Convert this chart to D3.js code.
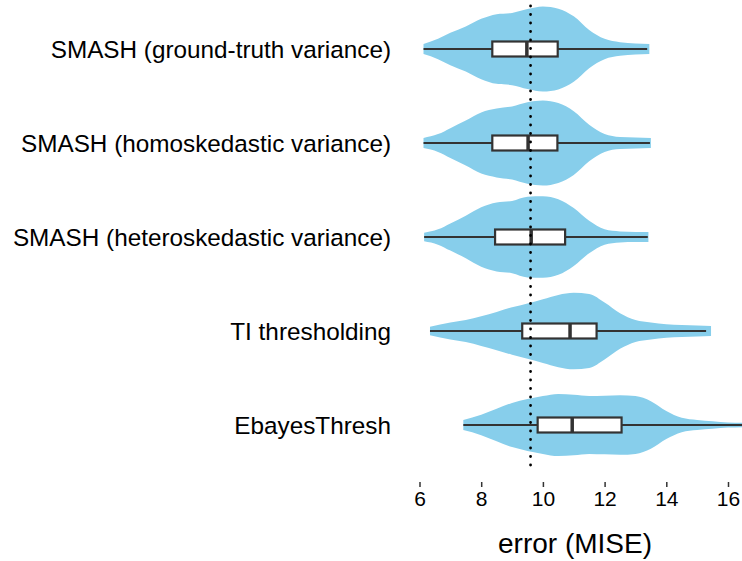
<!DOCTYPE html>
<html lang="en">
<head>
    <meta charset="UTF-8">
    <title>Violin plot of MISE by method</title>
    <script src="https://cdn.jsdelivr.net/npm/d3@7/dist/d3.min.js"></script>
    <style>
        body { margin: 0; background: #fff; }
        svg text { font-family: "Liberation Sans", Arial, Helvetica, sans-serif; fill: #000; }
    </style>
</head>
<body>
<script>
    // Methods, top to bottom
    const methods = [
        "SMASH (ground-truth variance)",
        "SMASH (homoskedastic variance)",
        "SMASH (heteroskedastic variance)",
        "TI thresholding",
        "EbayesThresh"
    ];

    // Violin outlines: error values and relative density at each
    const violinX = [
        [6.13, 6.6, 7, 7.5, 8, 8.5, 9, 9.5, 10, 10.5, 11, 11.5, 12, 12.5, 13, 13.45],
        [6.13, 6.6, 7, 7.5, 8, 8.5, 9, 9.5, 10, 10.5, 11, 11.5, 12, 12.5, 13, 13.5],
        [6.15, 6.6, 7, 7.5, 8, 8.5, 9, 9.5, 10, 10.5, 11, 11.5, 12, 12.5, 13, 13.42],
        [6.34, 7, 7.5, 8, 8.5, 9, 9.5, 10, 10.5, 11, 11.5, 12, 12.5, 13, 13.5, 14, 14.5, 15, 15.45],
        [7.42, 8, 8.5, 9, 9.5, 10, 10.5, 11, 11.5, 12, 12.5, 13, 13.5, 14, 14.5, 15, 15.5, 16, 16.6]
    ];
    const violinDensity = [
        [0.12, 0.24, 0.38, 0.53, 0.71, 0.82, 0.85, 0.94, 1.00, 0.95, 0.77, 0.45, 0.24, 0.16, 0.13, 0.12],
        [0.12, 0.21, 0.35, 0.53, 0.72, 0.81, 0.86, 0.96, 1.00, 0.94, 0.75, 0.43, 0.21, 0.14, 0.13, 0.12],
        [0.10, 0.18, 0.32, 0.50, 0.70, 0.81, 0.85, 0.95, 0.96, 0.89, 0.68, 0.38, 0.18, 0.13, 0.12, 0.12],
        [0.10, 0.20, 0.26, 0.35, 0.45, 0.56, 0.65, 0.75, 0.85, 0.90, 0.87, 0.67, 0.42, 0.26, 0.20, 0.16, 0.14, 0.13, 0.12],
        [0.12, 0.24, 0.38, 0.52, 0.61, 0.68, 0.73, 0.71, 0.68, 0.69, 0.70, 0.68, 0.56, 0.33, 0.17, 0.12, 0.09, 0.06, 0.05]
    ];

    // Box plot stats
    const whiskerLo = [6.13, 6.13, 6.15, 6.34, 7.42];
    const q1 = [8.36, 8.36, 8.45, 9.33, 9.83];
    const median = [9.48, 9.52, 9.62, 10.88, 10.95];
    const q3 = [10.48, 10.47, 10.72, 11.74, 12.55];
    const whiskerHi = [13.38, 13.47, 13.40, 15.29, 16.6];

    const refLine = 9.6;
    const xTicks = [6, 8, 10, 12, 14, 16];

    const width = 742, height = 561;

    const svg = d3.select("body").append("svg")
        .attr("width", width)
        .attr("height", height);

    const x = d3.scaleLinear().domain([6, 16]).range([419.5, 728]);
    const y = d3.scaleBand().domain(methods).range([2, 472]);
    const w = d3.scaleLinear().domain([0, 1]).range([0, 42.5]);

    const rows = methods.map((m, i) => ({
        name: m,
        pts: violinX[i].map((v, j) => ({ v: v, d: violinDensity[i][j] })),
        lo: whiskerLo[i], q1: q1[i], med: median[i], q3: q3[i], hi: whiskerHi[i]
    }));

    const cy = d => y(d.name) + y.bandwidth() / 2;

    const g = svg.selectAll(".row").data(rows).enter().append("g").attr("class", "row");

    // violins
    g.append("path")
        .attr("fill", "#87CEEB")
        .attr("d", r => d3.area()
            .x(p => x(p.v))
            .y0(p => cy(r) - w(p.d))
            .y1(p => cy(r) + w(p.d))
            .curve(d3.curveMonotoneX)(r.pts));

    // whiskers
    g.append("line")
        .attr("x1", r => x(r.lo)).attr("x2", r => x(r.hi))
        .attr("y1", cy).attr("y2", cy)
        .attr("stroke", "#333").attr("stroke-width", 2.2);

    // boxes
    const boxH = 15;
    g.append("rect")
        .attr("x", r => x(r.q1))
        .attr("width", r => x(r.q3) - x(r.q1))
        .attr("y", r => cy(r) - boxH / 2)
        .attr("height", boxH)
        .attr("fill", "#fff")
        .attr("stroke", "#333").attr("stroke-width", 2.2);

    // medians
    g.append("line")
        .attr("x1", r => x(r.med)).attr("x2", r => x(r.med))
        .attr("y1", r => cy(r) - boxH / 2).attr("y2", r => cy(r) + boxH / 2)
        .attr("stroke", "#333").attr("stroke-width", 3.5);

    // reference dotted line
    svg.append("line")
        .attr("x1", x(refLine)).attr("x2", x(refLine))
        .attr("y1", 6).attr("y2", 470)
        .attr("stroke", "#000")
        .attr("stroke-width", 2.8)
        .attr("stroke-linecap", "round")
        .attr("stroke-dasharray", "0,8.5");

    // category labels
    svg.selectAll(".lab").data(methods).enter().append("text")
        .attr("class", "lab")
        .attr("x", 391)
        .attr("y", m => y(m) + y.bandwidth() / 2)
        .attr("dy", "0.38em")
        .attr("text-anchor", "end")
        .style("font-size", "24.3px")
        .text(m => m);

    // x axis
    const ax = svg.append("g")
        .attr("transform", "translate(0,482)")
        .call(d3.axisBottom(x).tickValues(xTicks).tickSize(5).tickPadding(4));
    ax.select(".domain").remove();
    ax.selectAll(".tick line").attr("stroke", "#333").attr("stroke-width", 1.5);
    ax.selectAll(".tick text")
        .style("font-size", "21px")
        .style("font-family", "'Liberation Sans', Arial, Helvetica, sans-serif")
        .attr("fill", "#000");

    svg.append("text")
        .attr("x", 575)
        .attr("y", 553)
        .attr("text-anchor", "middle")
        .style("font-size", "28px")
        .text("error (MISE)");
</script>
</body>
</html>
